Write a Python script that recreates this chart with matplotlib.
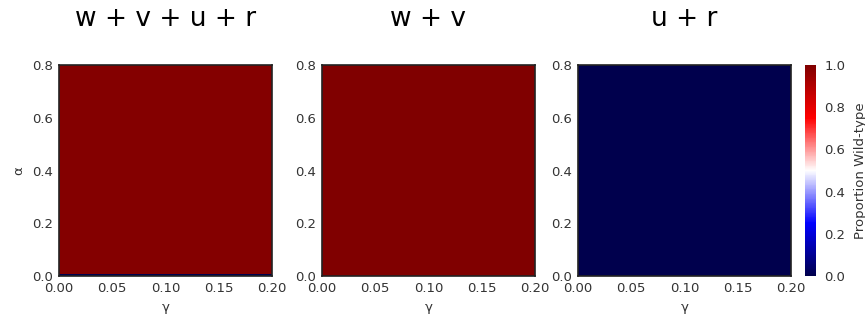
import numpy as np
import matplotlib
matplotlib.use("Agg")
import matplotlib.pyplot as plt

# data: proportion wild-type on (gamma, alpha) grid
titles = ["w + v + u + r", "w + v", "u + r"]
gamma_edges = [0.0, 0.2]
alpha_edges = [0.0, 0.009, 0.8]
vals_all = [[0.0], [0.99]]
vals_wv = [[1.0], [1.0]]
vals_ur = [[0.0], [0.0]]
panels = [vals_all, vals_wv, vals_ur]

fig = plt.figure(figsize=(8.65, 3.22), dpi=100)
lefts = [59, 322, 578]
w, h = 213, 211
bottom = 322 - 276
txt = "#333333"

for i, (title, vals) in enumerate(zip(titles, panels)):
    ax = fig.add_axes([lefts[i] / 865, bottom / 322, w / 865, h / 322])
    m = ax.pcolormesh(gamma_edges, alpha_edges, np.array(vals),
                      cmap="seismic", vmin=0, vmax=1)
    ax.set_xlim(0, 0.2)
    ax.set_ylim(0, 0.8)
    ax.set_xticks([0.0, 0.05, 0.10, 0.15, 0.20])
    ax.set_yticks([0.0, 0.2, 0.4, 0.6, 0.8])
    ax.tick_params(length=0, labelsize=9.5, colors=txt, pad=4)
    ax.set_xlabel("γ", fontsize=9.5, color=txt, labelpad=5)
    if i == 0:
        ax.set_ylabel("α", fontsize=9.5, color=txt, labelpad=5)
    ax.set_title(title, fontsize=19, pad=28)
    for s in ax.spines.values():
        s.set_color("#222222")
        s.set_linewidth(1.2)

cax = fig.add_axes([805 / 865, bottom / 322, 11 / 865, h / 322])
cb = fig.colorbar(m, cax=cax)
cb.set_ticks([0.0, 0.2, 0.4, 0.6, 0.8, 1.0])
cb.ax.tick_params(length=0, labelsize=9.5, colors=txt, pad=6)
cb.set_label("Proportion Wild-type", fontsize=9.5, color=txt, labelpad=6)
cb.outline.set_visible(False)

fig.savefig("out.png", dpi=100)
